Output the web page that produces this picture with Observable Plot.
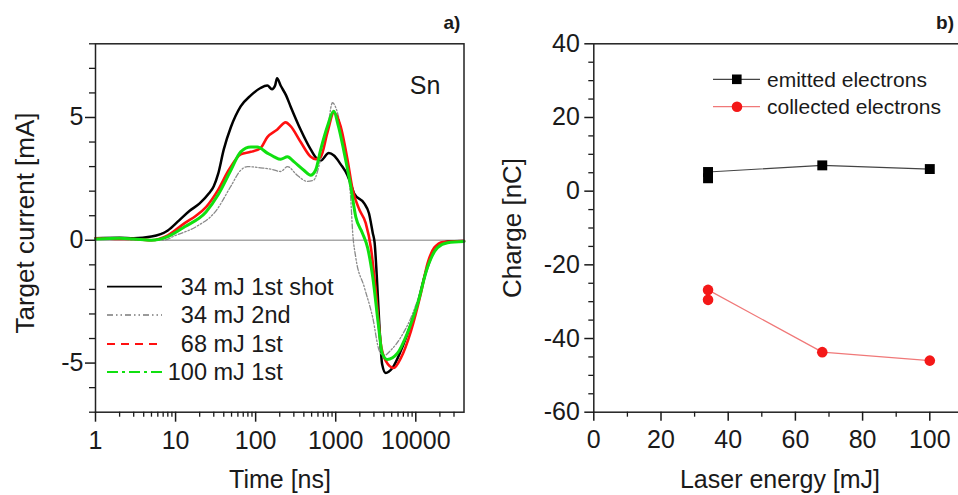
<!DOCTYPE html>
<html><head><meta charset="utf-8">
<script src="https://cdn.jsdelivr.net/npm/d3@7"></script>
<script src="https://cdn.jsdelivr.net/npm/@observablehq/plot@0.6"></script>
<style>
html,body{margin:0;padding:0;background:#fff;overflow:hidden;}
#wrap{position:relative;width:958px;height:495px;overflow:hidden;font-family:"Liberation Sans",Arial,sans-serif;color:#1a1a1a;}
.abs{position:absolute;white-space:nowrap;transform:translate(-50%,-50%);line-height:1;}
.rot{transform:translate(-50%,-50%) rotate(-90deg);}
#wrap svg{position:absolute;top:0;}
</style></head><body><div id="wrap"></div>
<script>
// ---------- Panel a) : target current vs time ----------
const shot1T = [1,2,3,5,8,11,15,20,26,30,34,40,49,65,87,115,140,160,175,185,205,240,273,365,487,590,650,820,950,1150,1400,1540,1700,2270,2600,2900,3060,3300,3500,3800,4200,5100,6500,8700,10500,12800,15400,18700,25000,40000];
const shot1V = [0.08,0.1,0.08,0.15,0.4,0.8,1.2,1.5,1.9,2.2,2.7,3.7,4.6,5.45,5.9,6.2,6.3,6.15,6.3,6.6,6.3,5.9,5.45,4.5,3.7,3.3,3.25,3.55,3.45,3.1,2.65,2.3,1.9,1.5,1.1,0.3,-0.1,-1.8,-3.4,-5.05,-5.4,-5.2,-4.5,-3.4,-2.6,-1.5,-0.7,-0.2,-0.05,-0.03];

const shot2T = [1,2,4,7,10,18,32,49,65,79,115,154,205,250,330,440,530,650,790,910,1080,1330,1540,1630,1780,2270,2900,3500,4000,4800,6500,8700,10500,12800,15400,18700,25000,40000];
const shot2V = [0.1,0.05,0.0,0.0,0.2,0.55,1.2,2.2,2.85,3.0,2.95,2.9,2.8,3.0,2.65,2.4,2.45,3.3,4.5,5.6,5.05,3.3,1.7,0.3,-0.7,-1.9,-3.15,-4.5,-4.7,-4.5,-3.95,-3.15,-2.45,-1.6,-0.8,-0.25,-0.08,-0.03];

const e68T = [1,2,3,5,8,13,18,24,34,46,65,87,115,140,185,237,273,365,487,560,650,790,950,1150,1400,1630,1970,2370,2750,3160,3650,4200,5300,6500,8700,11500,14000,17000,22000,40000];
const e68V = [0.08,0.05,0.05,0.0,0.2,0.7,1.0,1.35,2.05,2.85,3.5,3.6,3.75,4.2,4.5,4.8,4.65,4.0,3.4,3.3,3.4,4.4,5.2,4.65,3.3,2.05,1.25,0.7,-0.3,-2.05,-4.2,-4.9,-5.2,-4.8,-3.7,-2.2,-0.95,-0.3,-0.07,-0.03];

const e100T = [1,2,3,5,8,13,24,34,49,65,87,105,140,170,205,250,300,400,487,560,650,790,940,1080,1270,1540,1780,2150,2500,2900,3400,3800,4400,5900,7800,10500,14000,18700,25000,40000];
const e100V = [0.05,0.08,0.05,0.0,0.15,0.55,1.15,1.85,2.85,3.6,3.8,3.8,3.55,3.4,3.3,3.4,3.2,2.85,2.65,2.85,3.7,4.65,5.25,4.65,3.6,2.2,0.95,0.3,-0.3,-1.5,-3.4,-4.6,-4.85,-4.6,-3.8,-2.6,-1.1,-0.3,-0.1,-0.05];

const timeTicks = [1,10,100,1000,10000];
const timeMinor = [2,3,4,5,6,7,8,9,20,30,40,50,60,70,80,90,200,300,400,500,600,700,800,900,2000,3000,4000,5000,6000,7000,8000,9000,20000,30000];
const currentTicks = [-5,0,5];
const currentMinor = [-7,-6,-4,-3,-2,-1,1,2,3,4,6,7,8];

const seriesNames = ["34 mJ 1st shot","34 mJ 2nd","68 mJ 1st","100 mJ 1st"];

// ---------- Panel b) : charge vs laser energy ----------
const energy = [34, 68, 100];
const emitted = [5.2, 7.0, 6.0];
const collected = [-26.8, -43.7, -46.0];
const repeatEnergy = [34];
const emittedRepeat = [3.5];
const collectedRepeat = [-29.5];
const energyTicks = [0,20,40,60,80,100];
const energyMinor = [10,30,50,70,90];
const chargeTicks = [-60,-40,-20,0,20,40];
const chargeMinor = [-55,-50,-45,-35,-30,-25,-15,-10,-5,5,10,15,25,30,35];

const rows = (t, v) => t.map((d, i) => ({t: d, v: v[i]}));
const pts = (x, y) => x.map((d, i) => ({x: d, y: y[i]}));
const FONT = "'Liberation Sans', Arial, sans-serif";
const fmt = d => String(d);

const left = Plot.plot({
  width: 480, height: 495,
  marginLeft: 95, marginRight: 16.5, marginTop: 43.3, marginBottom: 83.3,
  x: {type: "log", domain: [1, 40000], label: null},
  y: {domain: [-7, 8], label: null},
  style: {fontFamily: FONT, fontSize: "25px", color: "#1a1a1a", background: "transparent", overflow: "visible"},
  marks: [
    Plot.ruleY([0], {stroke: "#a8a8a8", strokeWidth: 1.5}),
    Plot.line(rows(shot1T, shot1V), {x: "t", y: "v", stroke: "#000", strokeWidth: 2.5, curve: "monotone-x"}),
    Plot.line(rows(shot2T, shot2V), {x: "t", y: "v", stroke: "#8a8a8a", strokeWidth: 1.3, strokeDasharray: "5,2,1.5,2,1.5,2", curve: "monotone-x"}),
    Plot.line(rows(e68T, e68V), {x: "t", y: "v", stroke: "#ff1010", strokeWidth: 2.6, curve: "monotone-x"}),
    Plot.line(rows(e100T, e100V), {x: "t", y: "v", stroke: "#10e010", strokeWidth: 3, curve: "monotone-x"}),
    Plot.frame({stroke: "#222", strokeWidth: 1.5}),
    Plot.axisX(timeTicks, {tickSize: 10, tickPadding: 9, tickFormat: fmt, fontSize: 25, strokeWidth: 1.5, label: null}),
    Plot.axisX(timeMinor, {tickSize: 5, tickFormat: () => "", strokeWidth: 1.3, label: null}),
    Plot.axisY(currentTicks, {tickSize: 10, tickPadding: 2, tickFormat: fmt, fontSize: 25, strokeWidth: 1.5, label: null}),
    Plot.axisY(currentMinor, {tickSize: 6, tickFormat: () => "", strokeWidth: 1.3, label: null})
  ]
});
left.style.left = "0px";

const right = Plot.plot({
  width: 500, height: 495,
  marginLeft: 113.3, marginRight: 17.1, marginTop: 43.3, marginBottom: 83.3,
  x: {domain: [0, 110], label: null},
  y: {domain: [-60, 40], label: null},
  style: {fontFamily: FONT, fontSize: "25px", color: "#1a1a1a", background: "transparent", overflow: "visible"},
  marks: [
    Plot.frame({stroke: "#222", strokeWidth: 1.5}),
    Plot.line(pts(energy, emitted), {x: "x", y: "y", stroke: "#444", strokeWidth: 1.2}),
    Plot.line(pts(energy, collected), {x: "x", y: "y", stroke: "#f07878", strokeWidth: 1.2}),
    Plot.dot(pts(repeatEnergy, emittedRepeat).concat(pts(energy, emitted)), {x: "x", y: "y", symbol: "square", r: 5.6, fill: "#000"}),
    Plot.dot(pts(repeatEnergy, collectedRepeat).concat(pts(energy, collected)), {x: "x", y: "y", r: 5.3, fill: "#f41818"}),
    Plot.axisX(energyTicks, {tickSize: 9, tickPadding: 9, tickFormat: fmt, fontSize: 25, strokeWidth: 1.5, label: null}),
    Plot.axisX(energyMinor, {tickSize: 5, tickFormat: () => "", strokeWidth: 1.3, label: null}),
    Plot.axisY(chargeTicks, {tickSize: 9, tickPadding: 5, tickFormat: fmt, fontSize: 25, strokeWidth: 1.5, label: null}),
    Plot.axisY(chargeMinor, {tickSize: 5, tickFormat: () => "", strokeWidth: 1.3, label: null})
  ]
});
right.style.left = "480px";

const wrap = document.getElementById("wrap");
wrap.appendChild(left);
wrap.appendChild(right);

function label(text, x, y, size, extra) {
  const d = document.createElement("div");
  d.className = "abs" + (extra && extra.rot ? " rot" : "");
  d.textContent = text;
  d.style.left = x + "px";
  d.style.top = y + "px";
  d.style.fontSize = size + "px";
  if (extra && extra.bold) d.style.fontWeight = "bold";
  wrap.appendChild(d);
}
label("Time [ns]", 280, 479, 25);
label("Target current [mA]", 25, 223, 26, {rot: true});
label("Laser energy [mJ]", 780, 479, 25);
label("Charge [nC]", 512, 228, 26, {rot: true});
label("Sn", 425, 85, 25);
label("a)", 452, 22, 19, {bold: true});
label("b)", 945, 22, 19, {bold: true});

// legends
const NS = "http://www.w3.org/2000/svg";
const ov = document.createElementNS(NS, "svg");
ov.setAttribute("width", 958); ov.setAttribute("height", 495);
ov.style.left = "0px"; ov.style.pointerEvents = "none";
function el(tag, attrs, text) {
  const e = document.createElementNS(NS, tag);
  for (const k in attrs) e.setAttribute(k, attrs[k]);
  if (text != null) e.textContent = text;
  ov.appendChild(e);
  return e;
}
const legendStyles = [
  {stroke: "#000", dash: null, w: 1.8},
  {stroke: "#9a9a9a", dash: "6,3,1.5,3,1.5,3", w: 2},
  {stroke: "#ff1010", dash: "8,6", w: 2},
  {stroke: "#10e010", dash: "11,4,3,4", w: 2.2}
];
const rowY = [286.7, 315, 344, 372];
seriesNames.forEach((name, i) => {
  const s = legendStyles[i];
  const a = {x1: 107, x2: 162, y1: rowY[i], y2: rowY[i], stroke: s.stroke, "stroke-width": s.w};
  if (s.dash) a["stroke-dasharray"] = s.dash;
  el("line", a);
  const parts = name.split(" ");
  el("text", {x: 207, y: rowY[i], "text-anchor": "end", "dominant-baseline": "central", "font-family": FONT, "font-size": 23.5, fill: "#1a1a1a"}, parts[0]);
  el("text", {x: 213.5, y: rowY[i], "dominant-baseline": "central", "font-family": FONT, "font-size": 23.5, fill: "#1a1a1a"}, parts.slice(1).join(" "));
});
// right legend
el("line", {x1: 713, x2: 760, y1: 79.3, y2: 79.3, stroke: "#444", "stroke-width": 1.2});
el("rect", {x: 732, y: 74.5, width: 9.6, height: 9.6, fill: "#000"});
el("text", {x: 767, y: 79.3, "dominant-baseline": "central", "font-family": FONT, "font-size": 21, fill: "#1a1a1a"}, "emitted electrons");
el("line", {x1: 713, x2: 760, y1: 106.7, y2: 106.7, stroke: "#f07878", "stroke-width": 1.2});
el("circle", {cx: 737, cy: 106.7, r: 5.3, fill: "#f41818"});
el("text", {x: 767, y: 106.7, "dominant-baseline": "central", "font-family": FONT, "font-size": 21, fill: "#1a1a1a"}, "collected electrons");
wrap.appendChild(ov);
</script></body></html>
